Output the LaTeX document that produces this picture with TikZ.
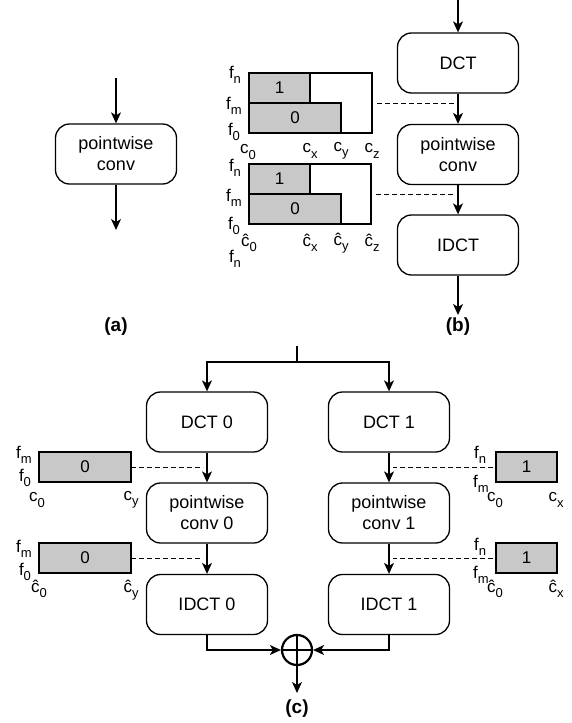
\documentclass[tikz,border=0pt]{standalone}
\usepackage{fontspec}
\setmainfont{Liberation Sans}
\usetikzlibrary{arrows.meta}
\definecolor{barfill}{RGB}{200,200,200}
% letter with a lowered, smaller subscript
\newcommand{\fsub}[2]{#1\raisebox{-0.6ex}{\fontsize{13}{13}\selectfont #2}}

\begin{document}
\begin{tikzpicture}[x=1pt,y=-1pt,
  blk/.style={draw, rounded corners=14pt, minimum width=121pt, minimum height=60pt,
    align=center, font=\fontsize{18}{21}\selectfont, line width=1.3pt, inner sep=0pt},
  outerbox/.style={draw, line width=1.3pt, inner sep=0pt, outer sep=0pt, anchor=north west},
  bar/.style={draw, fill=barfill, line width=1.3pt, inner sep=0pt, outer sep=0pt,
    font=\fontsize{17}{17}\selectfont},
  arr/.style={-{Stealth[length=11pt,width=10pt,inset=3pt]}, line width=1.3pt},
  dsh/.style={dash pattern=on 5pt off 3pt, line width=1pt},
  lbl/.style={font=\fontsize{17}{17}\selectfont, inner sep=0pt},
  captxt/.style={font=\bfseries\fontsize{19}{19}\selectfont, inner sep=0pt}]

\useasboundingbox (0,0) rectangle (571,723);

% ---------------- (a) ----------------
\node[blk] (pa) at (116,154) {pointwise\\conv};
\coordinate (ain) at (116,78);
\coordinate (aout) at (116,230);
\draw[arr] (ain) -- (pa.north);
\draw[arr] (pa.south) -- (aout);
\node[captxt] (capa) at (116,327) {(a)};

% ---------------- (b) ----------------
\node[blk] (dct) at (458,63) {DCT};
\node[blk] (pw) at (458,154.5) {pointwise\\conv};
\node[blk] (idct) at (458,245) {IDCT};
\coordinate (bin) at (458,0);
\coordinate (bout) at (458,315);
\draw[arr] (bin) -- (dct.north);
\draw[arr] (dct.south) -- (pw.north);
\draw[arr] (pw.south) -- (idct.north);
\draw[arr] (idct.south) -- (bout);
\node[captxt] (capb) at (458,327) {(b)};

% frequency/channel map before the pointwise conv
\node[outerbox, minimum width=123pt, minimum height=60pt] (ob1) at (249,73) {};
\node[bar, anchor=north west, minimum width=61pt, minimum height=30pt] (g11) at (249,73) {1};
\node[bar, anchor=north west, minimum width=92pt, minimum height=30pt] (g10) at (249,103) {0};
\draw[dsh, shorten <=5pt, shorten >=4pt] (ob1.east) -- (ob1.east -| dct.south);
\node[lbl] (b1fn) at (235,75) {\fsub{f}{n}};
\node[lbl] (b1fm) at (234,106) {\fsub{f}{m}};
\node[lbl] (b1f0) at (234,132) {\fsub{f}{0}};
\node[lbl] (b1c0) at (248,152) {\fsub{c}{0}};
\node[lbl] (b1cx) at (310,151) {\fsub{c}{x}};
\node[lbl] (b1cy) at (341,151) {\fsub{c}{y}};
\node[lbl] (b1cz) at (372,151) {\fsub{c}{z}};

% map after the pointwise conv
\node[outerbox, minimum width=122pt, minimum height=60pt] (ob2) at (249,164) {};
\node[bar, anchor=north west, minimum width=61pt, minimum height=30pt] (g21) at (249,164) {1};
\node[bar, anchor=north west, minimum width=92pt, minimum height=30pt] (g20) at (249,194) {0};
\draw[dsh, shorten <=5pt, shorten >=4pt] (ob2.east) -- (ob2.east -| pw.south);
\node[lbl] (b2fn) at (235,168) {\fsub{f}{n}};
\node[lbl] (b2fm) at (234,198) {\fsub{f}{m}};
\node[lbl] (b2f0) at (234,226) {\fsub{f}{0}};
\node[lbl] (b2c0) at (249,243) {\fsub{ĉ}{0}};
\node[lbl] (b2cx) at (310,243) {\fsub{ĉ}{x}};
\node[lbl] (b2cy) at (341,243) {\fsub{ĉ}{y}};
\node[lbl] (b2cz) at (372,243) {\fsub{ĉ}{z}};
\node[lbl] (b2fnb) at (235,259) {\fsub{f}{n}};

% ---------------- (c) ----------------
\node[blk] (dct0) at (207,422) {DCT 0};
\node[blk] (pw0) at (207,513) {pointwise\\conv 0};
\node[blk] (idct0) at (207,604.5) {IDCT 0};
\node[blk] (dct1) at (389,422) {DCT 1};
\node[blk] (pw1) at (389,513) {pointwise\\conv 1};
\node[blk] (idct1) at (389,604.5) {IDCT 1};

\coordinate (cin) at (297,346);
\coordinate (split) at (297,362);
\draw[line width=1.3pt] (cin) -- (split);
\draw[arr] (split) -| (dct0.north);
\draw[arr] (split) -| (dct1.north);
\draw[arr] (dct0.south) -- (pw0.north);
\draw[arr] (pw0.south) -- (idct0.north);
\draw[arr] (dct1.south) -- (pw1.north);
\draw[arr] (pw1.south) -- (idct1.north);

\node[draw, circle, minimum size=30pt, line width=2.2pt, inner sep=0pt] (sum) at (297,650) {};
\draw[line width=2.2pt] (sum.north) -- (sum.south) (sum.west) -- (sum.east);
\draw[arr] (idct0.south) |- (sum.west);
\draw[arr] (idct1.south) |- (sum.east);
\coordinate (cout) at (297,693);
\draw[arr] (sum.south) -- (cout);
\node[captxt] (capc) at (297,709) {(c)};

% branch 0 maps
\node[bar, minimum width=92pt, minimum height=30pt] (lc1) at (85,467) {0};
\draw[dsh, shorten >=4pt] (lc1.east) -- (lc1.east -| dct0.south);
\node[lbl] (l1fm) at (24,455) {\fsub{f}{m}};
\node[lbl] (l1f0) at (25,478) {\fsub{f}{0}};
\node[lbl] (l1c0) at (37,500) {\fsub{c}{0}};
\node[lbl] (l1cy) at (131,500) {\fsub{c}{y}};

\node[bar, minimum width=92pt, minimum height=30pt] (lc2) at (85,558) {0};
\draw[dsh, shorten >=4pt] (lc2.east) -- (lc2.east -| pw0.south);
\node[lbl] (l2fm) at (24,549) {\fsub{f}{m}};
\node[lbl] (l2f0) at (25,572) {\fsub{f}{0}};
\node[lbl] (l2c0) at (39,589) {\fsub{ĉ}{0}};
\node[lbl] (l2cy) at (131,590) {\fsub{ĉ}{y}};

% branch 1 maps
\node[bar, minimum width=61pt, minimum height=30pt] (rc1) at (526.5,467) {1};
\draw[dsh, shorten <=3pt, shorten >=4pt] (rc1.west) -- (rc1.west -| dct1.south);
\node[lbl] (r1fn) at (480,455) {\fsub{f}{n}};
\node[lbl] (r1fm) at (481,484) {\fsub{f}{m}};
\node[lbl] (r1c0) at (495,500) {\fsub{c}{0}};
\node[lbl] (r1cx) at (556,500) {\fsub{c}{x}};

\node[bar, minimum width=61pt, minimum height=30pt] (rc2) at (526.5,558) {1};
\draw[dsh, shorten <=3pt, shorten >=4pt] (rc2.west) -- (rc2.west -| pw1.south);
\node[lbl] (r2fn) at (480,547) {\fsub{f}{n}};
\node[lbl] (r2fm) at (481,575) {\fsub{f}{m}};
\node[lbl] (r2c0) at (495,589) {\fsub{ĉ}{0}};
\node[lbl] (r2cx) at (556,589) {\fsub{ĉ}{x}};

\end{tikzpicture}
\end{document}
